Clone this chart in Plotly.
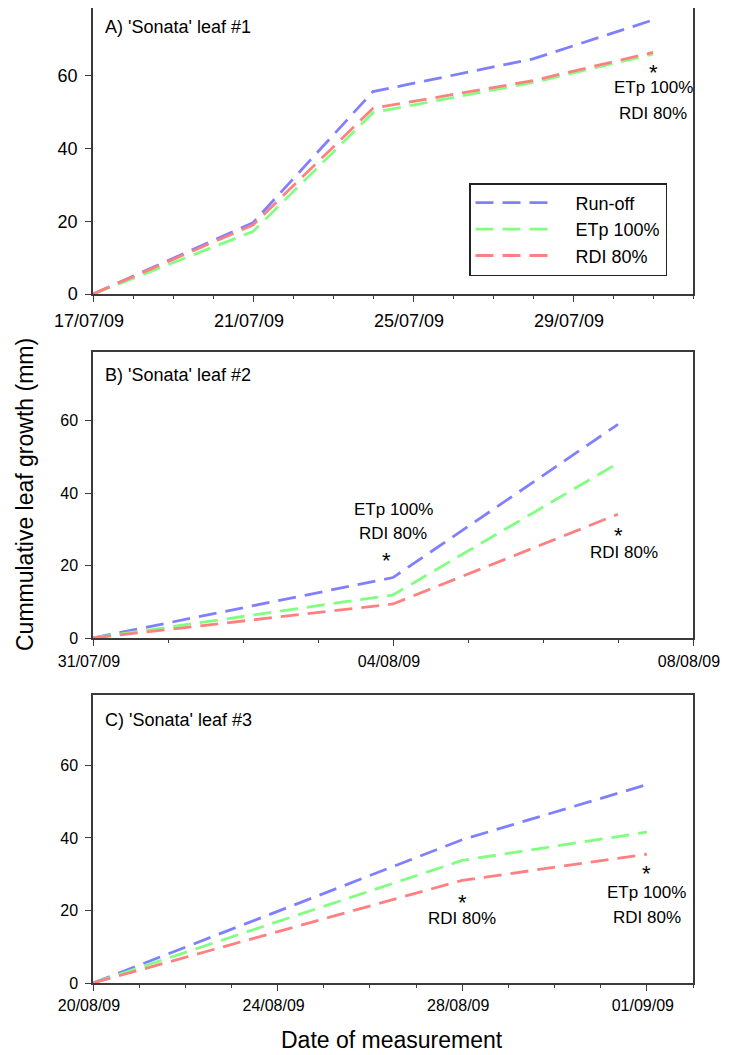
import plotly.graph_objects as go

# ---------------- data ----------------
series_names = ["Run-off", "ETp 100%", "RDI 80%"]
series_colors = ["rgb(128,128,255)", "rgb(128,255,128)", "rgb(255,128,128)"]

dates_a = ["2009-07-17", "2009-07-21", "2009-07-24", "2009-07-28", "2009-07-31"]
runoff_a = [0, 19.6, 55.7, 64.7, 75.4]
etp_a = [0, 17.2, 49.9, 58.2, 66.0]
rdi_a = [0, 19.0, 51.1, 58.7, 66.5]

dates_b = ["2009-07-31", "2009-08-04", "2009-08-07"]
runoff_b = [0, 16.7, 59.0]
etp_b = [0, 11.9, 48.3]
rdi_b = [0, 9.4, 34.2]

dates_c = ["2009-08-20", "2009-08-28", "2009-09-01"]
runoff_c = [0, 39.5, 54.7]
etp_c = [0, 33.8, 41.6]
rdi_c = [0, 28.3, 35.5]

panel_titles = ["A) 'Sonata' leaf #1", "B) 'Sonata' leaf #2", "C) 'Sonata' leaf #3"]
x_ranges = [["2009-07-17", "2009-08-01"], ["2009-07-31", "2009-08-08"], ["2009-08-20", "2009-09-02"]]
y_tick_vals = [0, 20, 40, 60]

# ---------------- layout helpers ----------------
# the page body has an 8px margin, so the figure is drawn at (8, 8) in the window
OFF = 8
W, H = 722, 1047
FONT = "Liberation Sans, Arial, sans-serif"
AXIS_COLOR = "#3a3a3a"

def py(px):
    return 1 - (px - OFF) / H

def pxx(px):
    return (px - OFF) / W

panel_px = [(8, 294), (352, 638), (695, 983)]
y_tops = [78.7, 79.0, 79.4]

fig = go.Figure()

all_data = [
    (dates_a, [runoff_a, etp_a, rdi_a]),
    (dates_b, [runoff_b, etp_b, rdi_b]),
    (dates_c, [runoff_c, etp_c, rdi_c]),
]

NB = "\u00a0\u00a0\u00a0"
for i, (dates, vals) in enumerate(all_data):
    xa = "x" if i == 0 else f"x{i+1}"
    ya = "y" if i == 0 else f"y{i+1}"
    for name, color, v in zip(series_names, series_colors, vals):
        fig.add_trace(go.Scatter(
            x=dates, y=v, mode="lines", name=NB + name,
            line=dict(color=color, width=2.8, dash="18px,9px"),
            xaxis=xa, yaxis=ya, showlegend=(i == 0),
        ))

layout = dict(
    width=W, height=H, autosize=False,
    margin=dict(l=0, r=0, t=0, b=0, pad=0),
    paper_bgcolor="white", plot_bgcolor="white",
    font=dict(family=FONT, color="black"),
    legend=dict(
        x=pxx(469), y=py(183), xanchor="left", yanchor="top",
        bordercolor="#222", borderwidth=1.5, bgcolor="white",
        font=dict(size=18, family=FONT), itemwidth=80,
        tracegroupgap=0,
    ),
)

tick_sizes = [18, 16, 16]
standoffs = [4, 2, 1]
for i in range(3):
    top, bot = panel_px[i]
    xk = "xaxis" if i == 0 else f"xaxis{i+1}"
    yk = "yaxis" if i == 0 else f"yaxis{i+1}"
    anchor_y = "y" if i == 0 else f"y{i+1}"
    anchor_x = "x" if i == 0 else f"x{i+1}"
    layout[xk] = dict(
        domain=[pxx(93), pxx(693)], anchor=anchor_y, type="date", automargin=False,
        range=x_ranges[i], dtick=4 * 86400000, tick0=x_ranges[i][0],
        tickformat="%d/%m/%y", ticks="outside", ticklen=6, tickwidth=1.2,
        tickcolor=AXIS_COLOR, showline=True, linecolor=AXIS_COLOR, linewidth=1.5,
        mirror=True, showgrid=False, zeroline=False,
        tickfont=dict(size=tick_sizes[i], family=FONT),
        ticklabelstandoff=standoffs[i], ticklabelshift=-4,
        ticklabeloverflow="allow",
        minor=dict(dtick=86400000, tick0=x_ranges[i][0], ticks="outside", ticklen=3,
                   tickcolor=AXIS_COLOR, showgrid=False),
    )
    layout[yk] = dict(
        domain=[py(bot), py(top)], anchor=anchor_x, automargin=False,
        range=[0, y_tops[i]], tickvals=y_tick_vals,
        ticks="outside", ticklen=6, tickwidth=1.2, tickcolor=AXIS_COLOR,
        showline=True, linecolor=AXIS_COLOR, linewidth=1.5, mirror=True,
        showgrid=False, zeroline=False,
        tickfont=dict(size=tick_sizes[i], family=FONT),
        ticklabelstandoff=4,
    )

fig.update_layout(**layout)

# ---------------- annotations ----------------
ann = []
title_px_y = [27, 375, 720]
for t, yy in zip(panel_titles, title_px_y):
    ann.append(dict(text=t, x=pxx(103), y=py(yy), xref="paper", yref="paper",
                    xanchor="left", yanchor="middle", showarrow=False,
                    font=dict(size=18, family=FONT)))

def note(text, x, y, xref, yref, size=17):
    ann.append(dict(text=text, x=x, y=y, xref=xref, yref=yref, showarrow=False,
                    xanchor="center", yanchor="middle", font=dict(size=size, family=FONT)))

# Panel A
note("*", "2009-07-31", 61.0, "x", "y", 22)
note("ETp 100%", "2009-07-31", 56.7, "x", "y")
note("RDI 80%", "2009-07-31", 49.8, "x", "y")
# Panel B
note("ETp 100%", "2009-08-04", 35.4, "x2", "y2")
note("RDI 80%", "2009-08-04", 29.0, "x2", "y2")
note("*", "2009-08-03 22:00", 21.3, "x2", "y2", 22)
note("*", "2009-08-07", 28.2, "x2", "y2", 22)
note("RDI 80%", "2009-08-07 02:00", 23.5, "x2", "y2")
# Panel C
note("*", "2009-08-28", 22.2, "x3", "y3", 22)
note("RDI 80%", "2009-08-28", 17.8, "x3", "y3")
note("*", "2009-09-01", 30.3, "x3", "y3", 22)
note("ETp 100%", "2009-09-01", 25.0, "x3", "y3")
note("RDI 80%", "2009-09-01", 18.1, "x3", "y3")

# axis titles
ann.append(dict(text="Cummulative leaf growth (mm)", x=pxx(25), y=py(495), xref="paper", yref="paper",
                textangle=-90, showarrow=False, xanchor="center", yanchor="middle",
                font=dict(size=23, family=FONT)))
ann.append(dict(text="Date of measurement", x=pxx(392), y=py(1040), xref="paper", yref="paper",
                showarrow=False, xanchor="center", yanchor="middle",
                font=dict(size=23, family=FONT)))

fig.update_layout(annotations=ann)
fig.write_html("out.html")
